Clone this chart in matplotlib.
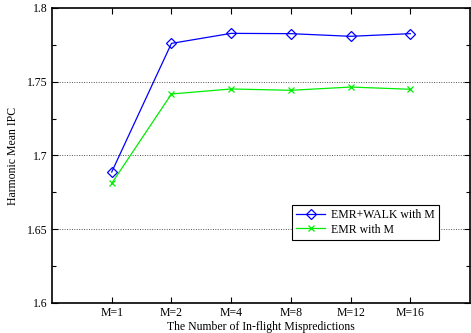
import matplotlib
matplotlib.use("Agg")
import matplotlib.pyplot as plt
from matplotlib.ticker import MultipleLocator, FuncFormatter

# data
labels = ['M=1', 'M=2', 'M=4', 'M=8', 'M=12', 'M=16']
emr_walk = [1.6888, 1.7760, 1.7828, 1.7826, 1.7808, 1.7826]
emr = [1.6811, 1.7417, 1.7451, 1.7442, 1.7464, 1.7449]

plt.rcParams['font.family'] = ['Liberation Serif', 'DejaVu Serif']

fig = plt.figure(figsize=(4.71, 3.33), dpi=100)
ax = fig.add_axes([0.1104, 0.0901, 0.8875, 0.8859])

x = range(1, len(labels) + 1)
ax.plot(x, emr_walk, color='#0000ff', lw=0.9, marker='D', ms=5,
        mfc='none', mec='#0000ff', mew=0.9, label='EMR+WALK with M')
ax.plot(x, emr, color='#00ee00', lw=0.9, marker='x', ms=5,
        mew=0.9, label='EMR with M')

ax.set_xlim(0, 7)
ax.set_ylim(1.6, 1.8)
ax.set_xticks(list(x))
ax.set_xticklabels(labels)
ax.yaxis.set_major_locator(MultipleLocator(0.05))
ax.yaxis.set_minor_locator(MultipleLocator(0.025))
ax.yaxis.set_major_formatter(FuncFormatter(lambda v, p: '{:g}'.format(round(v, 3))))
ax.tick_params(direction='in', top=True, right=True, labelsize=8.5,
               length=4, width=0.8, pad=3)
ax.tick_params(which='minor', direction='in', right=True, length=3, width=0.8)
for y in (1.65, 1.7, 1.75):
    ax.axhline(y, color='#555555', lw=0.7, ls=(0, (1, 1.5)), zorder=0)
for s in ax.spines.values():
    s.set_linewidth(1.2)

ax.set_xlabel('The Number of In-flight Mispredictions', fontsize=8.5, labelpad=1)
ax.set_ylabel('Harmonic Mean IPC', fontsize=8.5, labelpad=6)

leg = ax.legend(loc='upper left', bbox_to_anchor=(0.575, 0.332), fontsize=8.5,
                fancybox=False, framealpha=1, edgecolor='black',
                borderpad=0.35, labelspacing=0.2, handlelength=2.4,
                handletextpad=0.5, borderaxespad=0)
leg.get_frame().set_linewidth(0.8)

fig.savefig('out.png', dpi=100)
